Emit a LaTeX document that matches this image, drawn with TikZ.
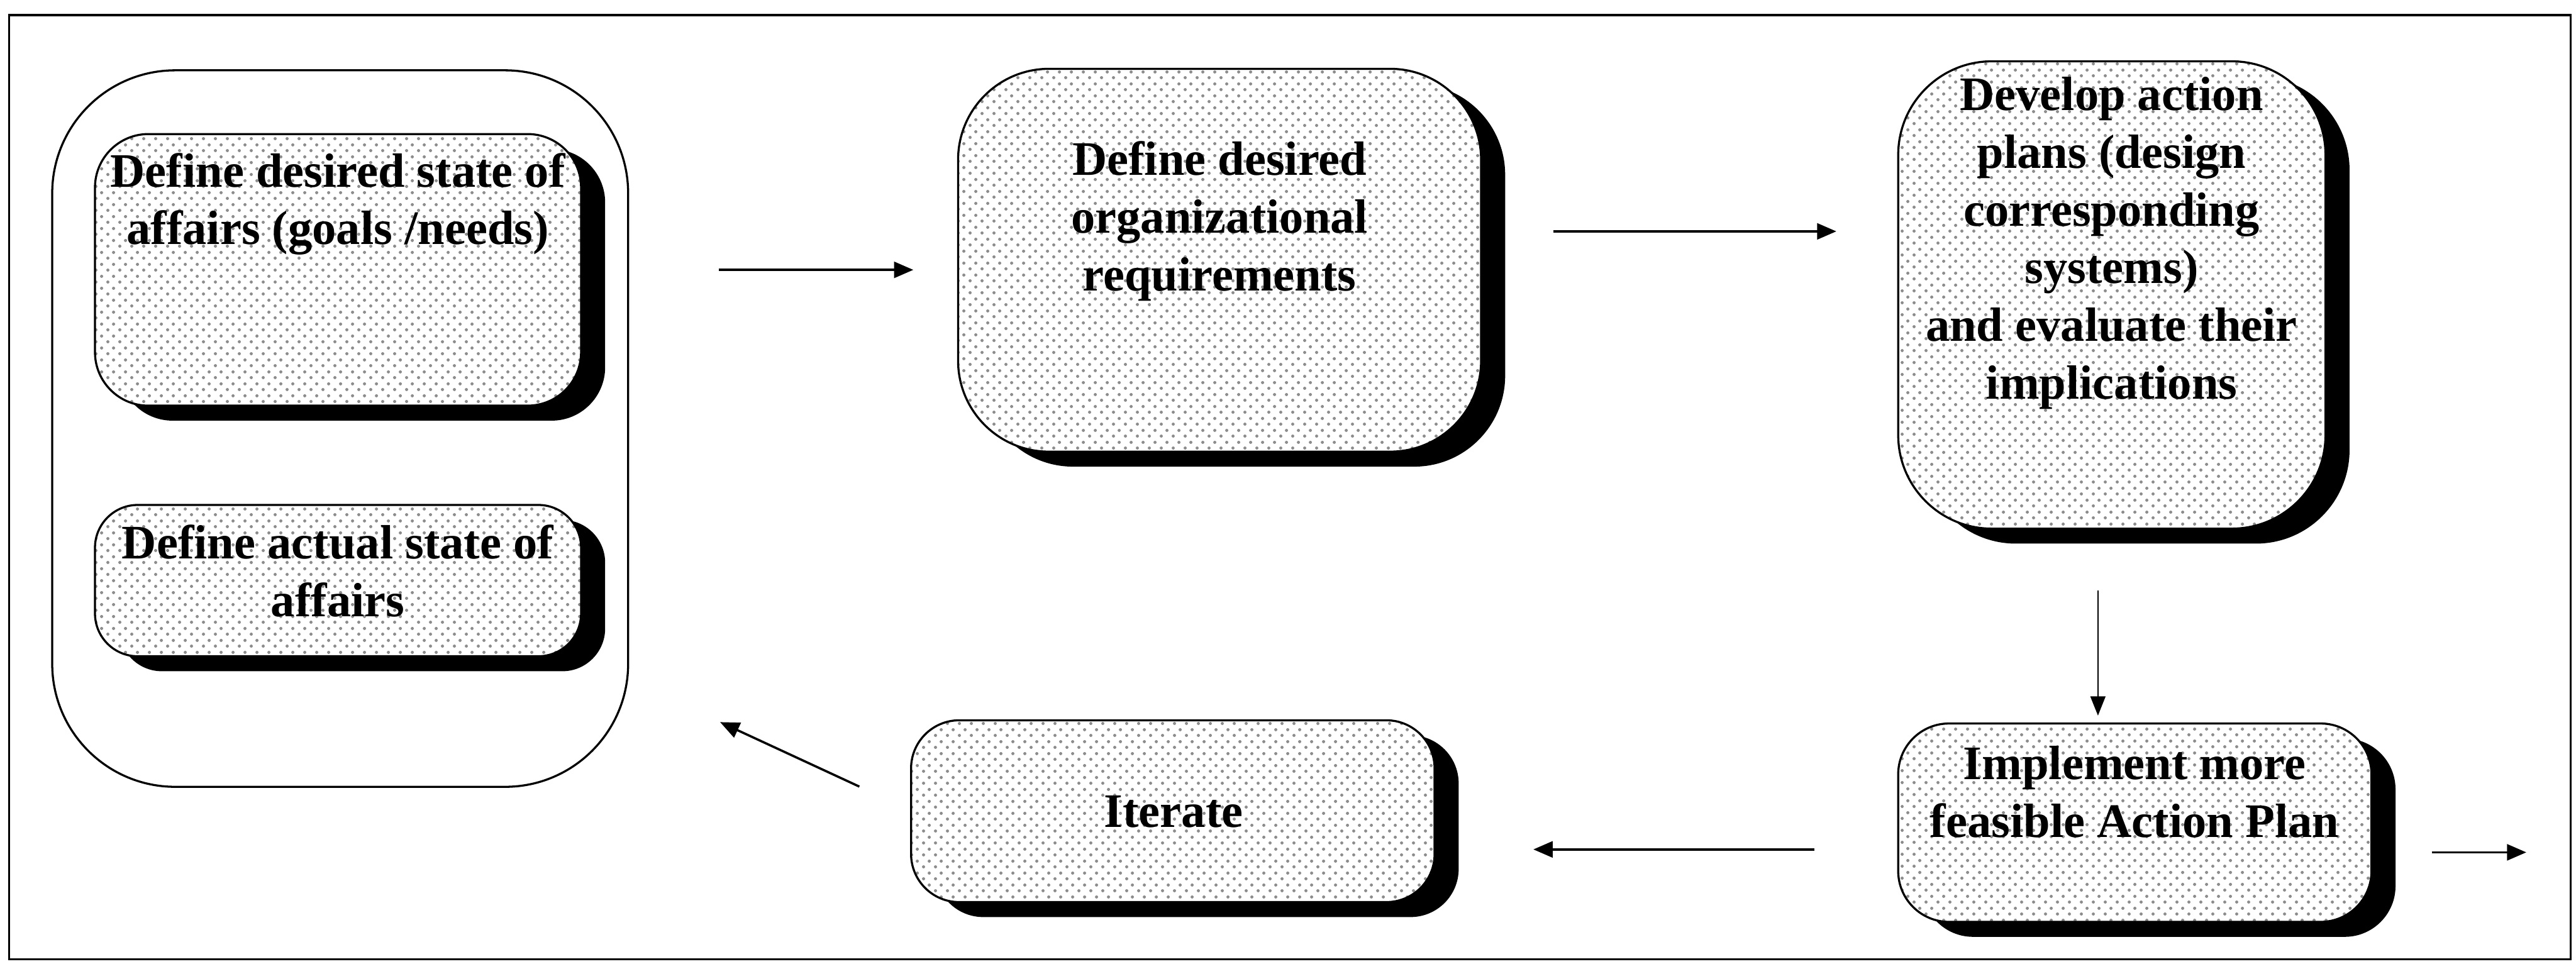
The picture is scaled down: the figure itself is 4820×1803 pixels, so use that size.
\documentclass[tikz,border=0pt]{standalone}
\usepackage{fontspec}
\setmainfont{Liberation Serif}
\usetikzlibrary{arrows.meta,shadows,patterns}

% fine halftone screen used inside the step boxes
\pgfdeclarepatternformonly{halftone}{\pgfqpoint{0pt}{0pt}}{\pgfqpoint{6.2pt}{6.2pt}}{\pgfqpoint{6.2pt}{6.2pt}}{%
  \pgfpathcircle{\pgfqpoint{1.55pt}{1.55pt}}{0.85pt}%
  \pgfpathcircle{\pgfqpoint{4.65pt}{4.65pt}}{0.85pt}%
  \pgfusepath{fill}%
}

\begin{document}
\begin{tikzpicture}[x=0.01cm, y=-0.01cm,
  stepbox/.style={rectangle, inner sep=0pt, fill=white,
    drop shadow={shadow xshift=0.45cm, shadow yshift=-0.28cm, fill=black, opacity=1},
    postaction={pattern=halftone, pattern color=black!45},
    postaction={draw=black, line width=1.1pt}},
  grpbox/.style={rectangle, draw, line width=1.1pt, inner sep=0pt,
    rounded corners=2.3cm},
  txt/.style={align=center, inner sep=0pt,
    font=\bfseries\fontsize{25.6pt}{30.7pt}\selectfont},
  arr/.style={line width=1.2pt, -{Triangle[length=0.36cm, width=0.3cm]}},
  thinarr/.style={line width=0.8pt, -{Triangle[length=0.36cm, width=0.28cm]}}
]
\useasboundingbox (0,0) rectangle (4820,1803);

% outer frame
\draw[line width=1.2pt] (17,28) rectangle (4810,1795);

% group holding the two state definitions
\node[grpbox, minimum width=10.77cm, minimum height=13.4cm] (grp) at (636.5,802) {};

% step boxes
\node[stepbox, rounded corners=1cm, minimum width=9.09cm, minimum height=5.08cm] (A) at (632.5,505) {};
\node[stepbox, rounded corners=0.8cm, minimum width=9.09cm, minimum height=2.83cm] (B) at (632.5,1086.5) {};
\node[stepbox, rounded corners=1.7cm, minimum width=9.78cm, minimum height=7.16cm] (C) at (2282,487) {};
\node[stepbox, rounded corners=0.9cm, minimum width=9.79cm, minimum height=3.4cm] (D) at (2194.5,1518) {};
\node[stepbox, rounded corners=1.75cm, minimum width=7.99cm, minimum height=8.74cm] (E) at (3951.5,552) {};
\node[stepbox, rounded corners=0.95cm, minimum width=8.85cm, minimum height=3.71cm] (F) at (3994.5,1539.5) {};

% labels
\node[txt] (tA) at (632,382) {Define desired state of\\affairs (goals /needs)};
\node[txt] (tB) at (632,1068) {Define actual state of\\affairs};
\node[txt] (tC) at (2282,414) {Define desired\\organizational\\requirements};
\node[txt] (tD) at (2196,1519) {Iterate};
\node[txt] (tE) at (3951,455) {Develop action\\plans (design\\corresponding\\systems)\\and evaluate their\\implications};
\node[txt] (tF) at (3994,1482) {Implement more\\feasible Action Plan};

% connectors
\draw[arr, shorten <=1.68cm, shorten >=0.83cm] (grp.east |- A.east) -- (C.west |- A.east);

\coordinate (c2) at ([yshift=5.4mm]C.east);
\draw[arr, shorten <=1.34cm, shorten >=1.15cm] (c2) -- (c2 -| E.west);

\coordinate (c3) at ([xshift=-2.6mm]E.south);
\draw[thinarr, shorten <=1.15cm, shorten >=0.14cm] (c3) -- (c3 |- F.north);

\coordinate (c4) at ([yshift=-5mm]F.west);
\draw[arr, shorten <=1.56cm, shorten >=1.84cm] (c4) -- (c4 -| D.east);

\draw[arr] ([xshift=-9.6mm, yshift=4.6mm]D.west) -- ([xshift=17mm, yshift=-54.9mm]grp.east);

\coordinate (out) at (4727,1595);
\draw[arr, shorten <=1.12cm] (F.east |- out) -- (out);
\end{tikzpicture}
\end{document}
